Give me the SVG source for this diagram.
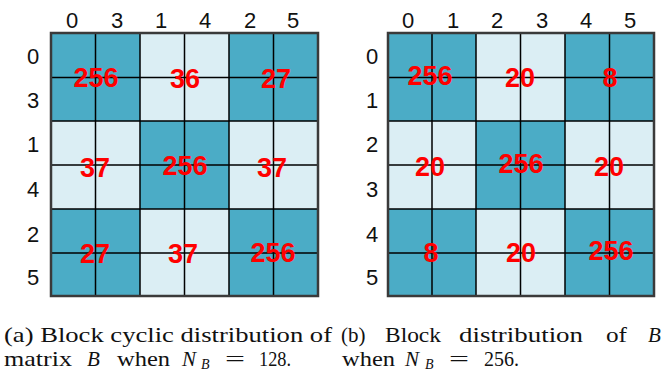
<svg xmlns="http://www.w3.org/2000/svg" width="671" height="373" viewBox="0 0 671 373">
<style>
.d{fill:#4BACC6}
.l{fill:#DBEEF4}
.g{stroke:#000;stroke-width:1.5;fill:none}
.o{stroke:#3a3a3a;stroke-width:2.5;fill:none}
.ax{font-family:"Liberation Sans",Arial,sans-serif;font-size:22px;fill:#111;text-anchor:middle}
.v{font-family:"Liberation Sans",Arial,sans-serif;font-size:27px;font-weight:bold;fill:#FF0000;text-anchor:middle}
.c{font-family:"Liberation Serif","Times New Roman",serif;font-size:21px;fill:#111}
.i{font-style:italic}
.s{font-size:14px;font-style:italic}
</style>
<rect width="671" height="373" fill="#fff"/>

<g id="panel-a">
  <g id="a-blocks">
    <rect class="d" x="51" y="33" width="89" height="88"/>
    <rect class="l" x="140" y="33" width="89" height="88"/>
    <rect class="d" x="229" y="33" width="89" height="88"/>
    <rect class="l" x="51" y="121" width="89" height="88"/>
    <rect class="d" x="140" y="121" width="89" height="88"/>
    <rect class="l" x="229" y="121" width="89" height="88"/>
    <rect class="d" x="51" y="209" width="89" height="87"/>
    <rect class="l" x="140" y="209" width="89" height="87"/>
    <rect class="d" x="229" y="209" width="89" height="87"/>
  </g>
  <g id="a-grid">
    <path class="g" d="M95.5 33V296M140 33V296M184.5 33V296M229 33V296M273.5 33V296M51 77.5H318M51 121H318M51 165H318M51 209H318M51 253H318"/>
    <rect class="o" x="51" y="33" width="267" height="263"/>
  </g>
  <g id="a-cols">
    <text class="ax" x="72" y="28">0</text>
    <text class="ax" x="117" y="28">3</text>
    <text class="ax" x="161" y="28">1</text>
    <text class="ax" x="205" y="28">4</text>
    <text class="ax" x="250" y="28">2</text>
    <text class="ax" x="293" y="28">5</text>
  </g>
  <g id="a-rows">
    <text class="ax" x="33" y="64">0</text>
    <text class="ax" x="33" y="108">3</text>
    <text class="ax" x="33" y="152">1</text>
    <text class="ax" x="33" y="197">4</text>
    <text class="ax" x="33" y="242">2</text>
    <text class="ax" x="33" y="285">5</text>
  </g>
  <g id="a-values">
    <text class="v" x="96" y="87">256</text>
    <text class="v" x="185" y="88">36</text>
    <text class="v" x="276" y="88">27</text>
    <text class="v" x="95" y="177">37</text>
    <text class="v" x="185" y="175">256</text>
    <text class="v" x="272" y="177">37</text>
    <text class="v" x="95" y="263">27</text>
    <text class="v" x="183" y="263">37</text>
    <text class="v" x="273" y="262">256</text>
  </g>
</g>

<g id="panel-b">
  <g id="b-blocks">
    <rect class="d" x="388" y="33" width="88" height="88"/>
    <rect class="l" x="476" y="33" width="89" height="88"/>
    <rect class="d" x="565" y="33" width="89" height="88"/>
    <rect class="l" x="388" y="121" width="88" height="88"/>
    <rect class="d" x="476" y="121" width="89" height="88"/>
    <rect class="l" x="565" y="121" width="89" height="88"/>
    <rect class="d" x="388" y="209" width="88" height="87"/>
    <rect class="l" x="476" y="209" width="89" height="87"/>
    <rect class="d" x="565" y="209" width="89" height="87"/>
  </g>
  <g id="b-grid">
    <path class="g" d="M432 33V296M476 33V296M520.5 33V296M565 33V296M609.5 33V296M388 77.5H654M388 121H654M388 165H654M388 209H654M388 253H654"/>
    <rect class="o" x="388" y="33" width="266" height="263"/>
  </g>
  <g id="b-cols">
    <text class="ax" x="408" y="28">0</text>
    <text class="ax" x="453" y="28">1</text>
    <text class="ax" x="497" y="28">2</text>
    <text class="ax" x="542" y="28">3</text>
    <text class="ax" x="586" y="28">4</text>
    <text class="ax" x="630" y="28">5</text>
  </g>
  <g id="b-rows">
    <text class="ax" x="372" y="64">0</text>
    <text class="ax" x="372" y="108">1</text>
    <text class="ax" x="372" y="152">2</text>
    <text class="ax" x="372" y="197">3</text>
    <text class="ax" x="372" y="242">4</text>
    <text class="ax" x="372" y="285">5</text>
  </g>
  <g id="b-values">
    <text class="v" x="430" y="85">256</text>
    <text class="v" x="520" y="87">20</text>
    <text class="v" x="610" y="87">8</text>
    <text class="v" x="430" y="176">20</text>
    <text class="v" x="521" y="173">256</text>
    <text class="v" x="609" y="176">20</text>
    <text class="v" x="431" y="262">8</text>
    <text class="v" x="521" y="262">20</text>
    <text class="v" x="611" y="260">256</text>
  </g>
</g>

<g id="caption-a">
  <text class="c" x="4" y="342" textLength="328" lengthAdjust="spacingAndGlyphs">(a) Block cyclic distribution of</text>
  <text class="c" y="366"><tspan x="4" textLength="68" lengthAdjust="spacingAndGlyphs">matrix</tspan><tspan class="i" x="87">B</tspan><tspan x="117" textLength="53" lengthAdjust="spacingAndGlyphs">when</tspan><tspan class="i" x="182">N</tspan><tspan class="s" x="201" dy="3">B</tspan><tspan x="225" dy="-3" textLength="20" lengthAdjust="spacingAndGlyphs">=</tspan><tspan x="259" textLength="32" lengthAdjust="spacingAndGlyphs">128.</tspan></text>
</g>
<g id="caption-b">
  <text class="c" y="342"><tspan x="341">(b)</tspan><tspan x="385" textLength="56" lengthAdjust="spacingAndGlyphs">Block</tspan><tspan x="459" textLength="124" lengthAdjust="spacingAndGlyphs">distribution</tspan><tspan x="606" textLength="21" lengthAdjust="spacingAndGlyphs">of</tspan><tspan class="i" x="648">B</tspan></text>
  <text class="c" y="366"><tspan x="342" textLength="53" lengthAdjust="spacingAndGlyphs">when</tspan><tspan class="i" x="405">N</tspan><tspan class="s" x="425" dy="3">B</tspan><tspan x="449" dy="-3" textLength="20" lengthAdjust="spacingAndGlyphs">=</tspan><tspan x="484" textLength="35" lengthAdjust="spacingAndGlyphs">256.</tspan></text>
</g>
</svg>
